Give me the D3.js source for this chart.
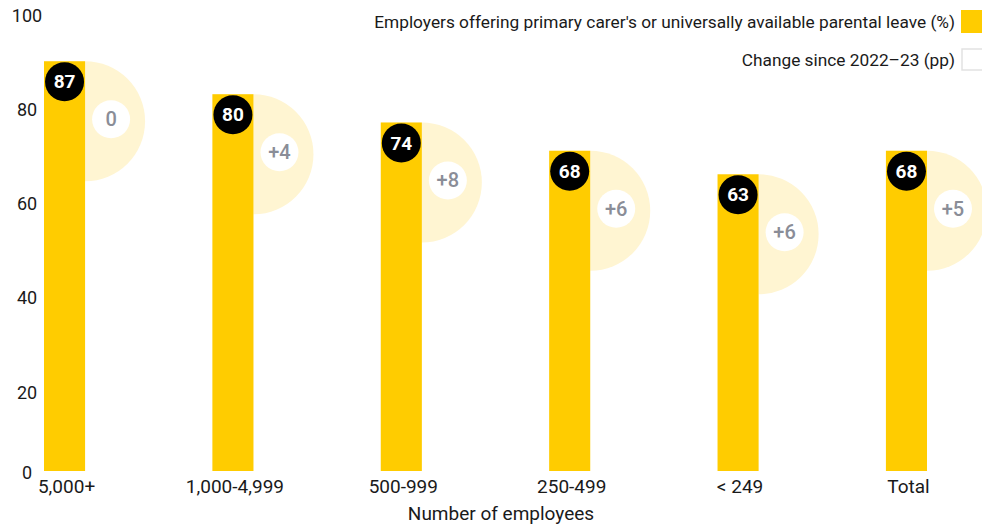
<!DOCTYPE html>
<html>
<head>
<meta charset="utf-8">
<script src="https://cdn.jsdelivr.net/npm/d3@7"></script>
<style>
  body { margin: 0; background: #fff; }
  svg { display: block; font-family: Roboto, "Noto Sans", sans-serif; }
</style>
</head>
<body>
<div id="chart"></div>
<script>
// Data
let categories = ['5,000+', '1,000-4,999', '500-999', '250-499', '< 249', 'Total']
let shares = [87, 80, 74, 68, 63, 68]
let changes = [0, 4, 8, 6, 6, 5]
let yTicks = [0, 20, 40, 60, 80, 100]
let legendLabels = ["Employers offering primary carer's or universally available parental leave (%)", 'Change since 2022\u201323 (pp)']

// Plot constants
let width = 982
let height = 524
let barColor = '#FFCC00'
let paleColor = '#FFF5D2'
let changeColor = '#8A8D97'

let svg = d3.select('#chart')
  .append('svg')
  .attr('width', width)
  .attr('height', height)

let data = categories.map(function(c, i){
  return {cat: c, share: shares[i], change: changes[i]}
})

// Scales
let x = d3.scaleBand()
  .domain(categories)
  .range([44, 927])
  .paddingInner(0.756)
  .paddingOuter(0)

let y = d3.scaleLinear()
  .domain([0, 100])
  .range([471, 0])

// Y axis labels (no line, labels sit just under each value)
let yAxis = svg.append('g')
  .attr('class', 'y-axis')
  .attr('transform', 'translate(27,0)')
  .call(d3.axisLeft(y).tickValues(yTicks).tickSize(0).tickPadding(0))

yAxis.select('.domain').remove()
yAxis.selectAll('text')
  .attr('text-anchor', 'middle')
  .attr('dy', '0.35em')
  .attr('y', function(d){ return d === 0 ? 1 : 15 })
  .attr('x', 0)
  .style('font-size', '18px')
  .style('fill', '#1a1a1a')
  .style('font-family', 'Roboto, sans-serif')

// X axis labels
let xAxis = svg.append('g')
  .attr('class', 'x-axis')
  .attr('transform', 'translate(0,477)')
  .call(d3.axisBottom(x).tickSize(0).tickPadding(0))

xAxis.select('.domain').remove()
xAxis.selectAll('text')
  .attr('dy', '0.35em')
  .attr('y', 9)
  .attr('dx', 2)
  .style('font-size', '19px')
  .style('fill', '#1a1a1a')
  .style('font-family', 'Roboto, sans-serif')

svg.append('text')
  .attr('x', 501)
  .attr('y', 513)
  .attr('dy', '0.35em')
  .attr('text-anchor', 'middle')
  .style('font-size', '19px')
  .style('fill', '#1a1a1a')
  .text('Number of employees')

// Pale half circles behind bars
let halfArc = d3.arc()
  .innerRadius(0)
  .outerRadius(60)
  .startAngle(0)
  .endAngle(Math.PI)

let groups = svg.append('g')
  .selectAll('g')
  .data(data)
  .enter().append('g')

groups.append('path')
  .attr('d', halfArc)
  .attr('transform', function(d){ return `translate(${x(d.cat) + x.bandwidth()},${y(d.share) + 60})` })
  .style('fill', paleColor)

groups.append('circle')
  .attr('cx', function(d){ return x(d.cat) + x.bandwidth() + 26 })
  .attr('cy', function(d){ return y(d.share) + 58 })
  .attr('r', 19)
  .style('fill', '#fff')

groups.append('text')
  .attr('x', function(d){ return x(d.cat) + x.bandwidth() + 26 })
  .attr('y', function(d){ return y(d.share) + 58 })
  .attr('dy', '0.35em')
  .attr('text-anchor', 'middle')
  .style('font-size', '20px')
  .style('font-weight', 500)
  .style('fill', changeColor)
  .text(function(d){ return d.change > 0 ? '+' + d.change : d.change })

// Bars
groups.append('rect')
  .attr('x', function(d){ return x(d.cat) })
  .attr('y', function(d){ return y(d.share) })
  .attr('width', x.bandwidth())
  .attr('height', function(d){ return y(0) - y(d.share) })
  .style('fill', barColor)

// Value bubbles
groups.append('circle')
  .attr('cx', function(d){ return x(d.cat) + x.bandwidth() / 2 })
  .attr('cy', function(d){ return y(d.share) + 20.5 })
  .attr('r', 19.5)
  .style('fill', '#000')

groups.append('text')
  .attr('x', function(d){ return x(d.cat) + x.bandwidth() / 2 })
  .attr('y', function(d){ return y(d.share) + 20.5 })
  .attr('dy', '0.35em')
  .attr('text-anchor', 'middle')
  .style('font-size', '19px')
  .style('font-weight', 700)
  .style('fill', '#fff')
  .text(function(d){ return d.share })

// Legend
let legend = svg.append('g')
  .attr('class', 'legend')

legend.append('text')
  .attr('x', 955)
  .attr('y', 22)
  .attr('dy', '0.35em')
  .attr('text-anchor', 'end')
  .style('font-size', '17.3px')
  .style('fill', '#1a1a1a')
  .text(legendLabels[0])

legend.append('rect')
  .attr('x', 961)
  .attr('y', 10)
  .attr('width', 22)
  .attr('height', 23)
  .style('fill', barColor)

legend.append('text')
  .attr('x', 955)
  .attr('y', 60)
  .attr('dy', '0.35em')
  .attr('text-anchor', 'end')
  .style('font-size', '17.3px')
  .style('fill', '#1a1a1a')
  .text(legendLabels[1])

legend.append('rect')
  .attr('x', 962)
  .attr('y', 49)
  .attr('width', 22)
  .attr('height', 21)
  .style('fill', '#fff')
  .style('stroke', '#e2e2e2')
  .style('stroke-width', 1.5)
</script>
</body>
</html>
